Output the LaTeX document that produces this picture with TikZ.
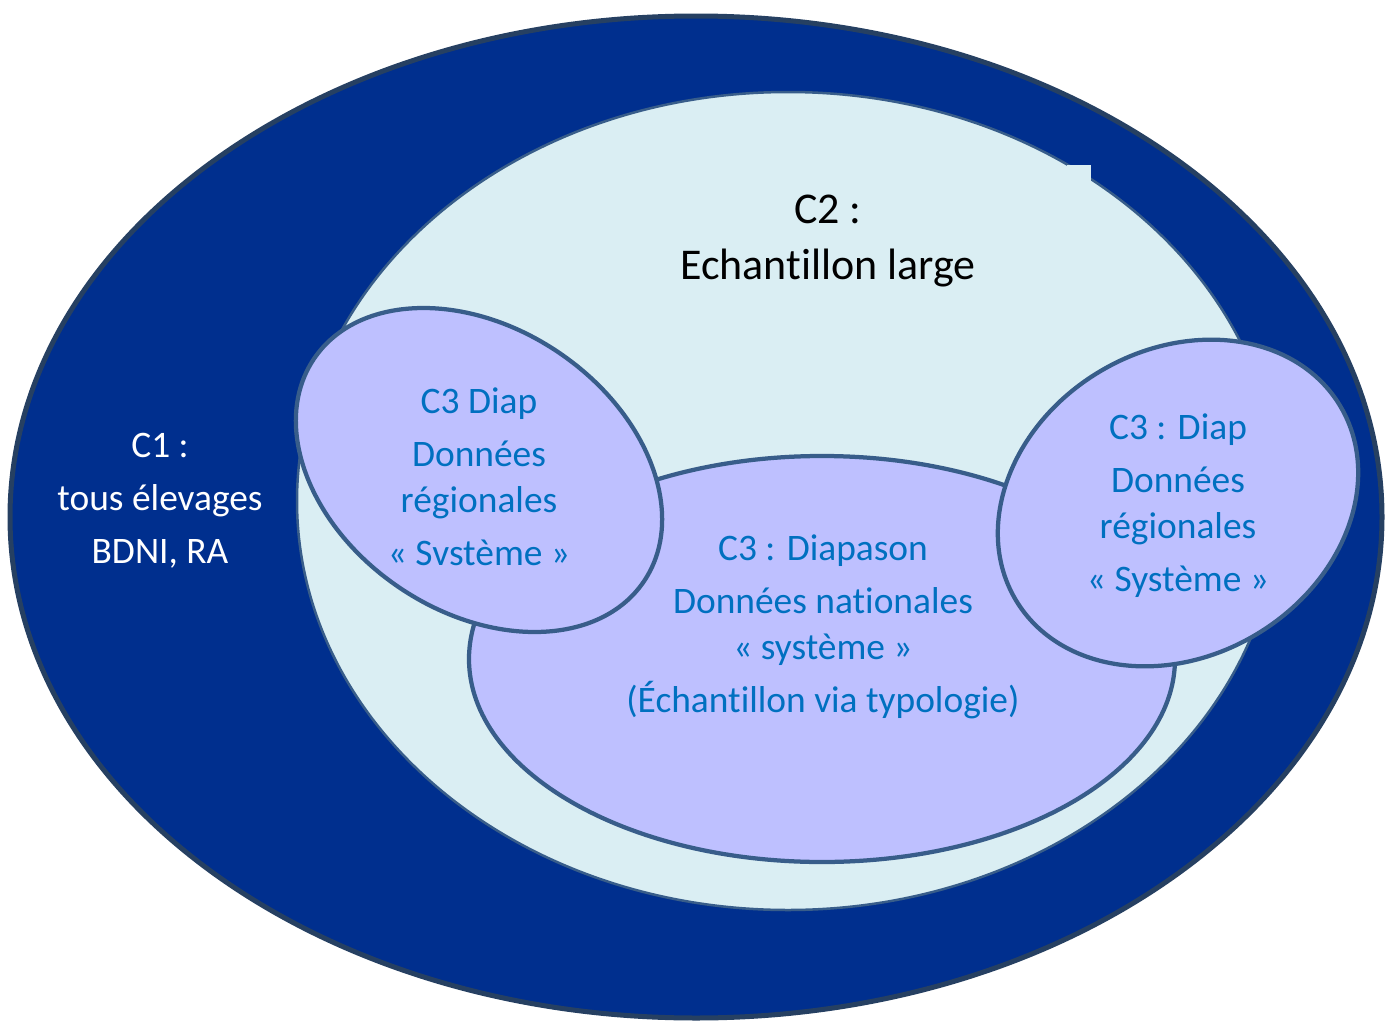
\documentclass[tikz,border=0pt]{standalone}
\usepackage{fontspec}
\setmainfont[Ligatures=NoCommon]{Carlito}
\definecolor{navyfill}{RGB}{0,47,142}
\definecolor{navyline}{RGB}{38,64,98}
\definecolor{skyfill}{RGB}{218,238,243}
\definecolor{slateline}{RGB}{56,93,138}
\definecolor{lilacfill}{RGB}{190,192,255}
\definecolor{labelblue}{RGB}{0,112,192}

\begin{document}
\begin{tikzpicture}[
  x=0.02cm, y=-0.02cm,
  c1ring/.style={fill=navyfill, draw=navyline, line width=0.1cm},
  c2ring/.style={fill=skyfill, draw=slateline, line width=0.05cm},
  c3ring/.style={fill=lilacfill, draw=slateline, line width=0.085cm},
  c3text/.style={text=labelblue, align=center,
    font=\fontsize{21.3}{26.2}\selectfont},
  c1text/.style={text=white, align=center,
    font=\fontsize{21.3}{30.2}\selectfont}
]
\useasboundingbox (0,0) rectangle (1387,1021);

% nested ellipses
\draw[c1ring] (696,517) ellipse [x radius=686, y radius=501];
\draw[c2ring] (788,501) ellipse [x radius=491, y radius=409];
\fill[skyfill] (1067,165) rectangle (1091,181);
\draw[c3ring] (822,659) ellipse [x radius=353, y radius=203];
\draw[c3ring, shift={(479,470)}, rotate=-34] (0,0) ellipse [x radius=199, y radius=142];
\draw[c3ring, shift={(1178,503)}, rotate=31] (0,0) ellipse [x radius=189, y radius=153];

% labels
\node[c1text] (c1) at (160,501) {C1 :\\ tous élevages\\ BDNI, RA};
\node[align=center, font=\fontsize{25}{32}\selectfont] (c2) at (828,241)
  {C2 :\\ Echantillon large};
\node[c3text] (c3left) at (479,477)
  {C3 Diap\\[0.14cm] Données\\ régionales\\[0.14cm] « Svstème »};
\node[c3text] (c3nat) at (823,627)
  {C3 : Diapason\\[0.14cm] Données nationales\\ « système »\\[0.14cm] (Échantillon via typologie)};
\node[c3text] (c3right) at (1178,506)
  {C3 : Diap\\[0.14cm] Données\\ régionales\\[0.14cm] « Système »};
\end{tikzpicture}
\end{document}
